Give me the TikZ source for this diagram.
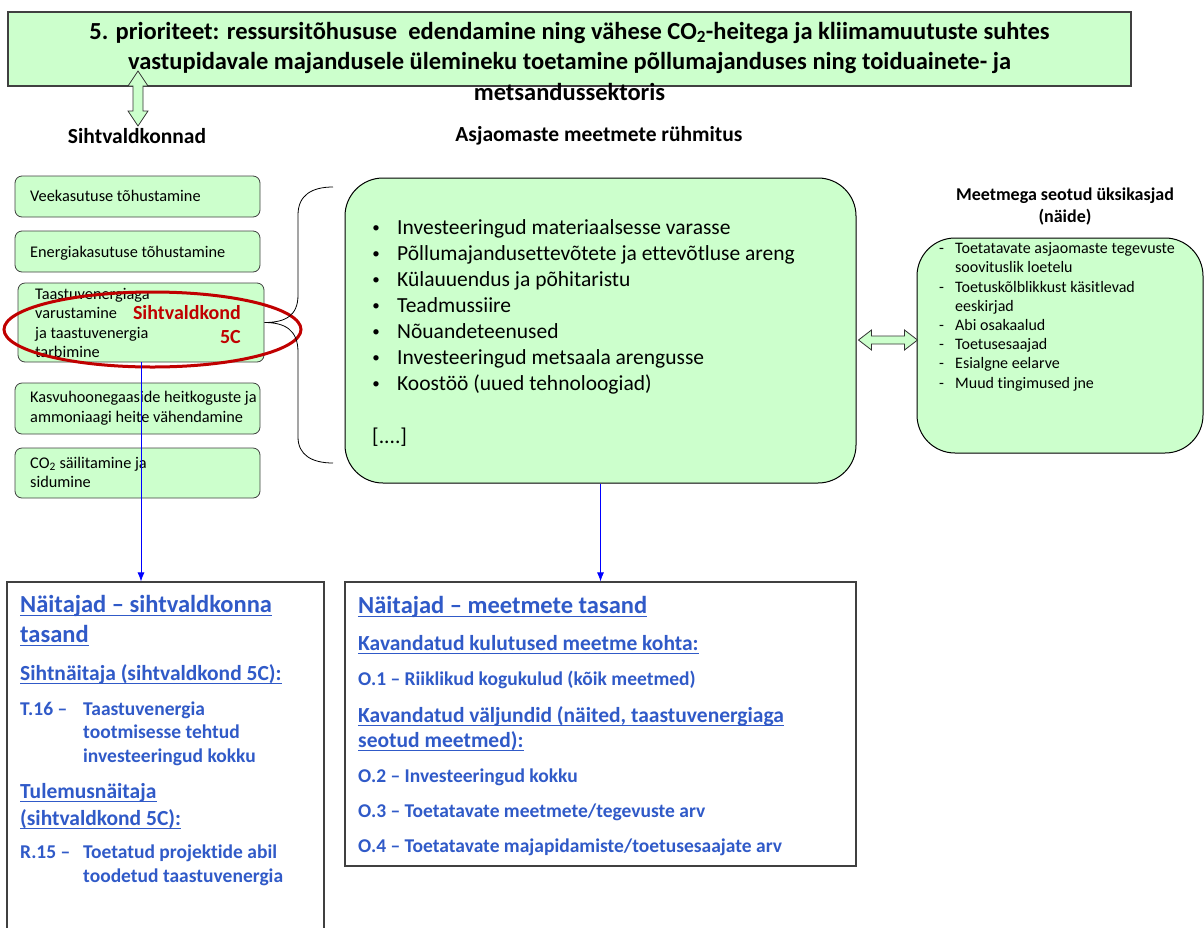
\documentclass[tikz,border=0pt]{standalone}
\usepackage{fontspec}
\setmainfont{Carlito}[Ligatures=NoCommon]
\usetikzlibrary{arrows.meta,calc}
\definecolor{boxgreen}{HTML}{CCFFCC}
\definecolor{boxline}{HTML}{404040}
\definecolor{markred}{HTML}{C00000}
\definecolor{indblue}{RGB}{48,90,200}
\newcommand{\fs}[1]{\fontsize{#1}{#1}\selectfont}
\tikzset{
  goalbox/.style={draw=boxline, fill=boxgreen, rounded corners=7pt, line width=0.8pt},
  bigbox/.style={draw=black, fill=boxgreen, rounded corners=38pt, line width=1pt},
  indbox/.style={draw=black!75, fill=white, line width=1.2pt},
  dblarrow/.style={draw=black!80, fill=boxgreen, line width=0.8pt},
  txt/.style={anchor=base west, inner sep=0pt},
  bannertxt/.style={anchor=base, inner sep=0pt, font=\bfseries\fs{24.5}},
  headtxt/.style={anchor=base, inner sep=0pt, font=\bfseries\fs{21.5}},
  goaltxt/.style={txt, font=\fs{16.3}},
  meastxt/.style={txt, font=\fs{21.5}},
  dettxt/.style={txt, font=\fs{16}},
  redtxt/.style={anchor=base east, inner sep=0pt, text=markred, font=\bfseries\fs{20}},
  indhead/.style={txt, text=indblue, font=\bfseries\fs{24.5}},
  indsub/.style={txt, text=indblue, font=\bfseries\fs{21.5}},
  inditem/.style={txt, text=indblue, font=\bfseries\fs{19.5}},
  ul/.style={append after command={($(\tikzlastnode.base west)+(0,3.5)$)
    edge[draw=indblue, line width=1.6pt] ($(\tikzlastnode.base east)+(0,3.5)$)}},
  linkarrow/.style={blue, line width=0.8pt, -{Latex[length=9pt,width=7pt]}}
}
\begin{document}
\begin{tikzpicture}[x=1pt,y=-1pt]
 \useasboundingbox (0,0) rectangle (1204,927);

 % priority banner
 \node[draw=black!75, fill=boxgreen, line width=1.3pt, minimum width=1123pt, minimum height=74pt] (prio) at (569.5,49) {};
 \node[bannertxt] (p1) at (569.5,39) {5. prioriteet: ressursitõhususe\ \ edendamine ning vähese CO\textsubscript{2}-heitega ja kliimamuutuste suhtes};
 \node[bannertxt] (p2) at (569.5,69) {vastupidavale majandusele ülemineku toetamine põllumajanduses ning toiduainete- ja};
 \node[bannertxt] (p3) at (569.5,100) {metsandussektoris};

 \node[headtxt] (hfa) at (137,143) {Sihtvaldkonnad};
 \node[headtxt] (hms) at (599,141) {Asjaomaste meetmete rühmitus};
 \node[anchor=base, inner sep=0pt, font=\bfseries\fs{18}] (hdt1) at (1065,200) {Meetmega seotud üksikasjad};
 \node[anchor=base, inner sep=0pt, font=\bfseries\fs{18}] (hdt2) at (1065,222) {(näide)};

 \coordinate (ua) at (138,71);
 \draw[dblarrow] (ua) -- ++(10,15) -- ++(-5,0) -- ++(0,25) -- ++(5,0) -- ++(-10,15)
   -- ++(-10,-15) -- ++(5,0) -- ++(0,-25) -- ++(-5,0) -- cycle;

 % focus areas
 \node[goalbox, minimum width=245pt, minimum height=41pt] (tgt1) at (137.5,196.5) {};
 \node[goalbox, minimum width=245pt, minimum height=41pt] (tgt2) at (137.5,251.5) {};
 \node[goalbox, minimum width=246pt, minimum height=79pt] (tgt3) at (141,322.5) {};
 \node[goalbox, minimum width=245pt, minimum height=51pt] (tgt4) at (137.5,408.5) {};
 \node[goalbox, minimum width=245pt, minimum height=50pt] (tgt5) at (137.5,473) {};

 \node[goaltxt] (g1) at (30,201) {Veekasutuse tõhustamine};
 \node[goaltxt] (g2) at (30,257) {Energiakasutuse tõhustamine};
 \node[goaltxt] (g3a) at (35,299) {Taastuvenergiaga};
 \node[goaltxt] (g3b) at (35,318) {varustamine};
 \node[goaltxt] (g3c) at (35,338) {ja taastuvenergia};
 \node[goaltxt] (g3d) at (35,357) {tarbimine};
 \node[goaltxt] (g4a) at (30,402) {Kasvuhoonegaaside heitkoguste ja};
 \node[goaltxt] (g4b) at (30,422) {ammoniaagi heite vähendamine};
 \node[goaltxt] (g5a) at (30,468) {CO\textsubscript{2} säilitamine ja};
 \node[goaltxt] (g5b) at (30,487) {sidumine};

 \node[redtxt] (r1) at (241,319) {Sihtvaldkond};
 \node[redtxt] (r2) at (241,343) {5C};
 \draw[markred, line width=3pt] (152.5,329.5) ellipse [x radius=148.5, y radius=37.5];

 % brace to the measures
 \draw[line width=0.8pt] (333,187) .. controls (312,187) and (298,195) .. (298,215) -- (298,295)
   .. controls (298,316) and (285,322.5) .. (tgt3.east)
   .. controls (285,322.5) and (298,330) .. (298,352) -- (298,437)
   .. controls (298,455) and (312,463) .. (333,463);

 % measures
 \node[bigbox, minimum width=511pt, minimum height=305pt] (meas) at (600.5,330.5) {};
 \foreach \lbl [count=\i] in {Investeeringud materiaalsesse varasse,
   Põllumajandusettevõtete ja ettevõtluse areng, Külauuendus ja põhitaristu,
   Teadmussiire, Nõuandeteenused, Investeeringud metsaala arengusse,
   Koostöö (uued tehnoloogiad)}{
   \node[meastxt, anchor=base, font=\fs{15}] (mb\i) at (376,{232+26*(\i-1)}) {\textbullet};
   \node[meastxt] (mi\i) at (397,{234+26*(\i-1)}) {\lbl};
 }
 \node[meastxt] (mdots) at (372,443) {[....]};

 % details
 \node[bigbox, minimum width=286pt, minimum height=215pt] (det) at (1060,345.5) {};
 \foreach \y in {253,292,330,349,368,388}
   \node[dettxt] at (939,\y) {-};
 \node[dettxt] (d1a) at (955,253) {Toetatavate asjaomaste tegevuste};
 \node[dettxt] (d1b) at (955,272) {soovituslik loetelu};
 \node[dettxt] (d2a) at (955,292) {Toetuskõlblikkust käsitlevad};
 \node[dettxt] (d2b) at (955,311) {eeskirjad};
 \node[dettxt] (d3) at (955,330) {Abi osakaalud};
 \node[dettxt] (d4) at (955,349) {Toetusesaajad};
 \node[dettxt] (d5) at (955,368) {Esialgne eelarve};
 \node[dettxt] (d6) at (955,388) {Muud tingimused jne};

 \coordinate (ha) at ($(meas.east)+(2,9.5)$);
 \draw[dblarrow] (ha) -- ++(13,-10) -- ++(0,6) -- ++(33,0) -- ++(0,-6) -- ++(13,10)
   -- ++(-13,10) -- ++(0,-6) -- ++(-33,0) -- ++(0,6) -- cycle;

 % indicators
 \node[indbox, minimum width=317pt, minimum height=358pt] (indL) at (165.5,761) {};
 \node[indbox, minimum width=511pt, minimum height=284pt] (indM) at (600.5,724) {};

 \node[indhead, ul] (l1) at (20,612) {Näitajad – sihtvaldkonna};
 \node[indhead, ul] (l2) at (20,642) {tasand};
 \node[indsub, ul] (l3) at (20,680) {Sihtnäitaja (sihtvaldkond 5C):};
 \node[inditem] (l4) at (20,715) {T.16 –};
 \node[inditem] (l4a) at (83,715) {Taastuvenergia};
 \node[inditem] (l4b) at (83,738.5) {tootmisesse tehtud};
 \node[inditem] (l4c) at (83,762) {investeeringud kokku};
 \node[indsub, ul] (l5a) at (20,798) {Tulemusnäitaja};
 \node[indsub, ul] (l5b) at (20,825) {(sihtvaldkond 5C):};
 \node[inditem] (l6) at (20,858) {R.15 –};
 \node[inditem] (l6a) at (83,858) {Toetatud projektide abil};
 \node[inditem] (l6b) at (83,882) {toodetud taastuvenergia};

 \node[indhead, ul] (m1) at (358,613) {Näitajad – meetmete tasand};
 \node[indsub, ul] (m2) at (358,650) {Kavandatud kulutused meetme kohta:};
 \node[inditem] (m3) at (358,685) {O.1 – Riiklikud kogukulud (kõik meetmed)};
 \node[indsub, ul] (m4a) at (358,722) {Kavandatud väljundid (näited, taastuvenergiaga};
 \node[indsub, ul] (m4b) at (358,747) {seotud meetmed):};
 \node[inditem] (m5) at (358,782) {O.2 – Investeeringud kokku};
 \node[inditem] (m6) at (358,817) {O.3 – Toetatavate meetmete/tegevuste arv};
 \node[inditem] (m7) at (358,852) {O.4 – Toetatavate majapidamiste/toetusesaajate arv};

 \draw[linkarrow] (tgt3.south) -- (tgt3.south |- indL.north);
 \draw[linkarrow] (meas.south) -- (meas.south |- indM.north);
\end{tikzpicture}
\end{document}
